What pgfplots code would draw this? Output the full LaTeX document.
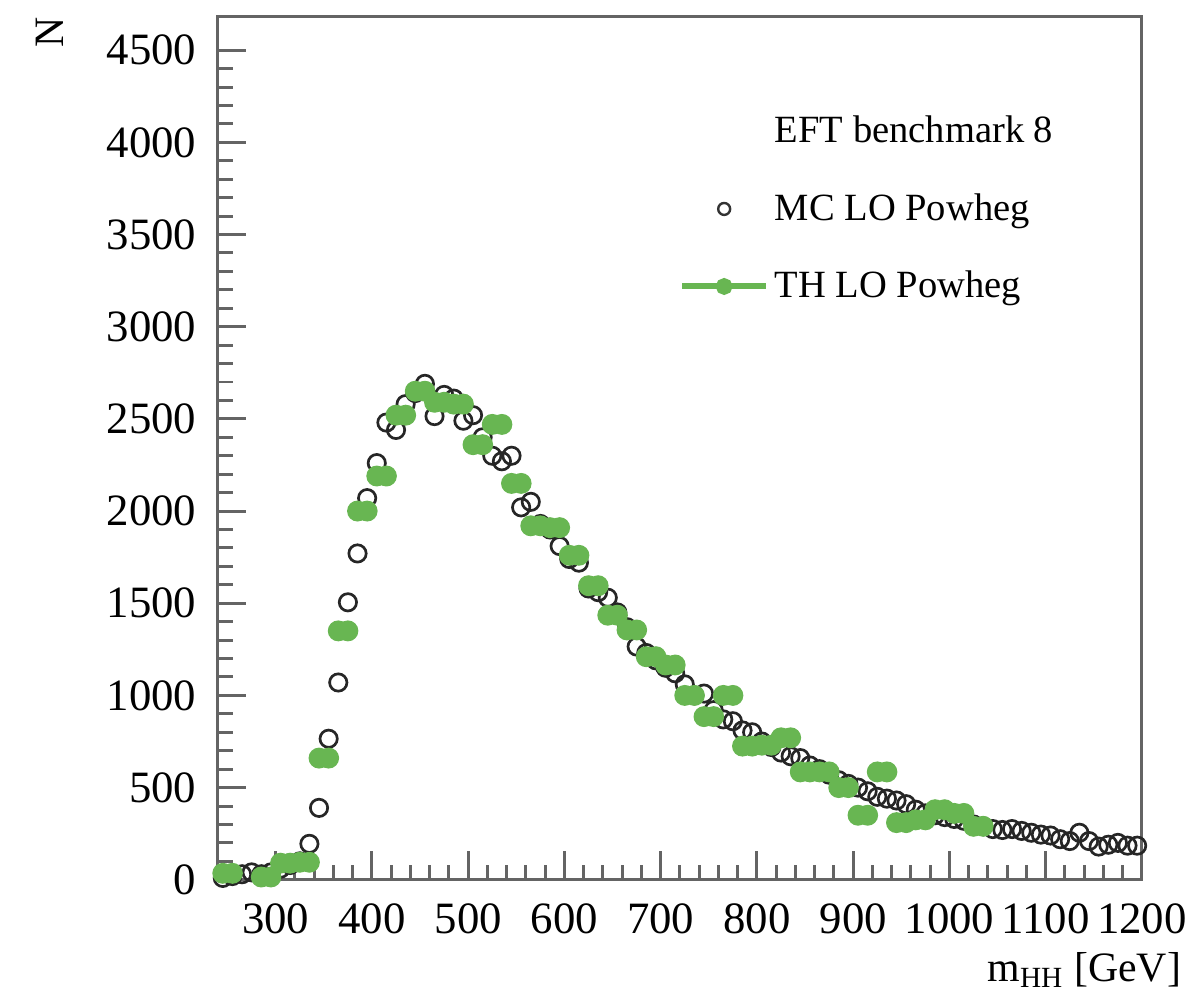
\documentclass[border=0pt]{standalone}
\usepackage{fontspec}
\setmainfont{Liberation Serif}
\usepackage{pgfplots}
\usepackage{pgfplotstable}
\pgfplotsset{compat=1.18}
\definecolor{thgreen}{RGB}{104,182,82}
\definecolor{axgray}{RGB}{100,100,100}

\pgfplotstableread{
x y
245 10
255 20
265 30
275 40
285 30
295 40
305 60
315 80
325 100
335 195
345 390
355 765
365 1070
375 1505
385 1770
395 2070
405 2260
415 2480
425 2440
435 2580
445 2640
455 2690
465 2515
475 2630
485 2610
495 2490
505 2520
515 2400
525 2300
535 2270
545 2300
555 2020
565 2050
575 1930
585 1900
595 1810
605 1740
615 1720
625 1580
635 1560
645 1530
655 1450
665 1370
675 1265
685 1230
695 1190
705 1150
715 1120
725 1060
735 1000
745 1010
755 920
765 870
775 860
785 810
795 800
805 750
815 720
825 690
835 670
845 660
855 620
865 600
875 570
885 540
895 520
905 500
915 480
925 450
935 440
945 430
955 410
965 380
975 360
985 350
995 340
1005 330
1015 320
1025 300
1035 290
1045 275
1055 270
1065 275
1075 265
1085 255
1095 245
1105 240
1115 220
1125 210
1135 255
1145 210
1155 180
1165 190
1175 200
1185 185
1195 185
}\mcdata

\pgfplotstableread{
x y
245 35
255 35
285 15
295 15
305 90
315 90
325 95
335 95
345 660
355 660
365 1350
375 1350
385 2000
395 2000
405 2190
415 2190
425 2520
435 2520
445 2650
455 2650
465 2590
475 2590
485 2580
495 2580
505 2360
515 2360
525 2470
535 2470
545 2150
555 2150
565 1920
575 1920
585 1910
595 1910
605 1760
615 1760
625 1595
635 1595
645 1435
655 1435
665 1355
675 1355
685 1210
695 1210
705 1165
715 1165
725 1000
735 1000
745 885
755 885
765 1000
775 1000
785 725
795 725
805 730
815 730
825 770
835 770
845 585
855 585
865 585
875 585
885 500
895 500
905 350
915 350
925 585
935 585
945 310
955 310
965 325
975 325
985 380
995 380
1005 360
1015 360
1025 290
1035 290
}\thdata

\begin{document}
\begin{tikzpicture}
\begin{axis}[
  scale only axis,
  width=309.3pt, height=288.8pt,
  xmin=240, xmax=1200, ymin=0, ymax=4680,
  xtick={300,400,...,1200},
  ytick={0,500,...,4500},
  minor x tick num=4, minor y tick num=4,
  tick align=inside, tick pos=left,
  major tick length=9.5pt, minor tick length=5pt,
  axis line style={axgray, line width=1pt},
  tick style={axgray, line width=1pt},
  scaled ticks=false,
  /pgf/number format/assume math mode=true,
  /pgf/number format/1000 sep={},
  ticklabel style={font=\fontsize{15}{18}\selectfont},
  yticklabel style={xshift=-3.7pt},
  xticklabel style={yshift=-4.4pt},
  clip=false,
  xlabel={m\textsubscript{HH} [GeV]},
  xlabel style={at={(axis description cs:1.043,0)}, anchor=base east, inner sep=0pt, yshift=-34pt, font=\fontsize{14}{16}\selectfont},
  ylabel={N},
  ylabel style={at={(axis description cs:-0.182,1)}, anchor=east, inner sep=0pt, font=\fontsize{14}{16}\selectfont},
  legend style={at={(axis description cs:0.489,0.90)}, anchor=north west, draw=none, fill=none,
    font=\fontsize{12.9}{15}\selectfont, row sep=11.5pt,
    /tikz/every even column/.append style={column sep=3pt}},
  legend cell align=left,
  legend image code/.code={\draw[mark repeat=2,mark phase=2,#1] plot coordinates {(0pt,0pt) (14pt,0pt) (28pt,0pt)};},
]
\addlegendimage{empty legend}
\addlegendentry{EFT benchmark 8}
\addlegendimage{only marks, mark=o, mark size=2pt, black!80, line width=0.8pt}
\addlegendentry{MC LO Powheg}
\addlegendimage{thgreen, line width=2pt, mark=*, mark size=1.8pt}
\addlegendentry{TH LO Powheg}

\addplot[only marks, mark=o, mark size=2.9pt, black!85, line width=0.9pt, forget plot] table {\mcdata};
\addplot[only marks, mark=*, mark size=3.3pt, thgreen, forget plot] table {\thdata};

\coordinate (bbsw) at (axis description cs:-0.2359,-0.1448);
\coordinate (bbne) at (axis description cs:1.0574,1.0197);
\end{axis}
\pgfresetboundingbox
\path[use as bounding box] (bbsw) rectangle (bbne);
\end{tikzpicture}
\end{document}
